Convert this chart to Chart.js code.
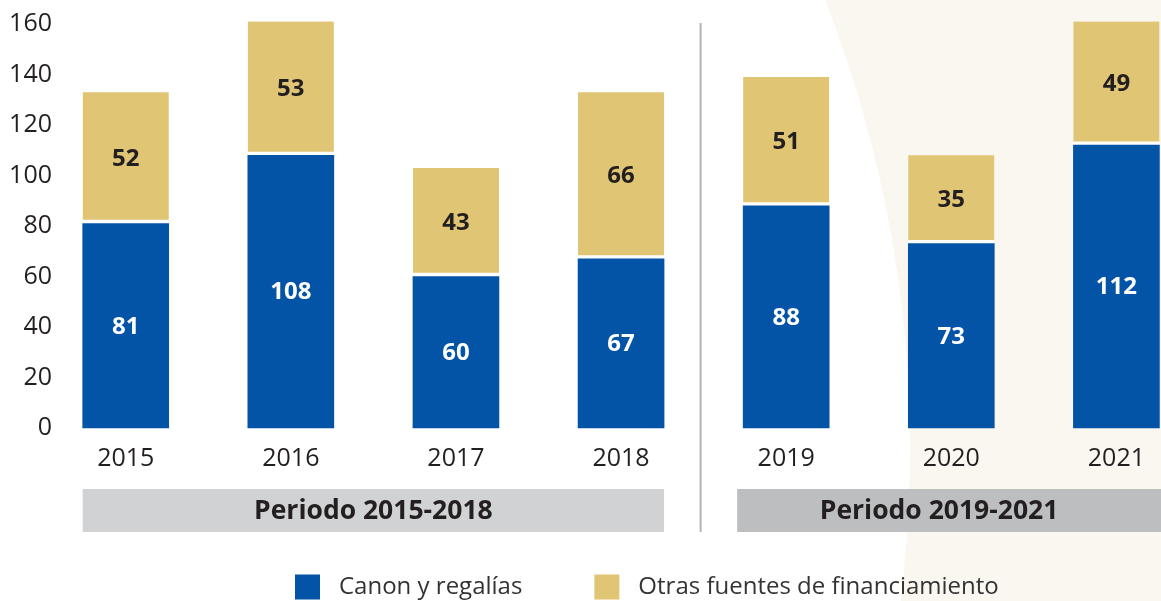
<!DOCTYPE html>
<html>
<head>
<meta charset="utf-8">
<script src="https://cdn.jsdelivr.net/npm/chart.js@4.4.1/dist/chart.umd.min.js"></script>
<style>
html,body{margin:0;padding:0;background:#fff;overflow:hidden}
#wrap{width:1161px;height:601px;position:relative}
canvas{display:block}
</style>
</head>
<body>
<div id="wrap"><canvas id="c" width="1161" height="601"></canvas></div>
<script>
// ---- data ----
const categories = ['2015', '2016', '2017', '2018', '2019', '2020', '2021'];
const canonRegalias = [81, 108, 60, 67, 88, 73, 112];
const otrasFuentes = [52, 53, 43, 66, 51, 35, 49];
const yTickValues = [0, 20, 40, 60, 80, 100, 120, 140, 160];
const seriesNames = ['Canon y regalías', 'Otras fuentes de financiamiento'];
const periodLabels = ['Periodo 2015-2018', 'Periodo 2019-2021'];
const periodFirstIndex = [0, 4];
const periodLastIndex = [3, 6];

// ---- style ----
const FONT = "'Open Sans', 'Noto Sans', sans-serif";
const TEXT = '#231f20';
const BLUE = '#0354a6';
const GOLD = '#dfc574';
const BAR_W = 86;
const PERIOD_FILL = ['#d1d2d4', '#bcbec0'];

const bgPlugin = {
  id: 'bg',
  beforeDraw(chart) {
    const c = chart.ctx;
    c.save();
    c.fillStyle = '#f9f7ef';
    c.fillRect(0, 0, chart.width, chart.height);
    c.fillStyle = '#ffffff';
    c.beginPath();
    c.arc(-324, 450, 1234, 0, Math.PI * 2);
    c.fill();
    c.restore();
  }
};

const valueLabelPlugin = {
  id: 'valueLabels',
  afterDatasetsDraw(chart) {
    const c = chart.ctx;
    c.save();
    c.font = `bold 24px ${FONT}`;
    c.textAlign = 'center';
    c.textBaseline = 'middle';
    chart.data.datasets.forEach((ds, di) => {
      const meta = chart.getDatasetMeta(di);
      meta.data.forEach((el, i) => {
        const p = el.getProps(['x', 'y', 'base'], true);
        const v = ds.data[i].y;
        c.fillStyle = di === 0 ? '#ffffff' : TEXT;
        c.fillText(String(v), p.x, (p.y + p.base) / 2 + 1);
      });
    });
    c.restore();
  }
};

const periodPlugin = {
  id: 'periods',
  afterDraw(chart) {
    const c = chart.ctx;
    const xs = chart.scales.x;
    const area = chart.chartArea;
    const half = BAR_W / 2;
    const b1Left = xs.getPixelForValue(periodFirstIndex[0]) - half;
    const b1Right = xs.getPixelForValue(periodLastIndex[0]) + half;
    const divider = (xs.getPixelForValue(periodLastIndex[0]) + xs.getPixelForValue(periodFirstIndex[1])) / 2 - 3;
    const b2Left = divider + (divider - b1Right);
    const b2Right = chart.width;
    const top = area.bottom + 61;
    const h = 43;
    c.save();
    c.strokeStyle = '#b3b3b3';
    c.lineWidth = 2;
    c.beginPath();
    c.moveTo(divider, area.top - 1);
    c.lineTo(divider, top + h);
    c.stroke();
    c.fillStyle = PERIOD_FILL[0];
    c.fillRect(b1Left, top, b1Right - b1Left, h);
    c.fillStyle = PERIOD_FILL[1];
    c.fillRect(b2Left, top, b2Right - b2Left, h);
    c.fillStyle = TEXT;
    c.font = `bold 26.5px ${FONT}`;
    c.textAlign = 'center';
    c.textBaseline = 'middle';
    c.fillText(periodLabels[0], (b1Left + b1Right) / 2, top + h / 2 + 1);
    c.fillText(periodLabels[1], (b2Left + b2Right) / 2 - 10, top + h / 2 + 1);
    c.restore();
  }
};

const legendPlugin = {
  id: 'customLegend',
  afterDraw(chart) {
    const c = chart.ctx;
    c.save();
    c.font = `24px ${FONT}`;
    c.textBaseline = 'middle';
    c.textAlign = 'left';
    const box = 25, gapText = 19, gapItem = 72;
    let x = 295;
    const cy = 587;
    chart.data.datasets.forEach((ds) => {
      c.fillStyle = ds.backgroundColor;
      c.fillRect(x, cy - box / 2, box, box);
      c.fillStyle = '#333333';
      c.fillText(ds.label, x + box + gapText, cy);
      x += box + gapText + c.measureText(ds.label).width + gapItem;
    });
    c.restore();
  }
};

new Chart(document.getElementById('c').getContext('2d'), {
  type: 'bar',
  data: {
    datasets: [
      {
        label: seriesNames[0],
        data: categories.map((_, i) => ({ x: i, y: canonRegalias[i] })),
        backgroundColor: BLUE,
        borderWidth: 0,
        barThickness: BAR_W,
        clip: false
      },
      {
        label: seriesNames[1],
        data: categories.map((_, i) => ({ x: i, y: otrasFuentes[i] })),
        backgroundColor: GOLD,
        borderColor: '#ffffff',
        borderWidth: { top: 0, left: 0, right: 0, bottom: 4 },
        borderSkipped: false,
        barThickness: BAR_W,
        clip: false
      }
    ]
  },
  options: {
    responsive: false,
    animation: false,
    layout: { autoPadding: false, padding: { top: 24, right: 0, bottom: 0, left: 0 } },
    plugins: { legend: { display: false }, tooltip: { enabled: false } },
    scales: {
      x: {
        type: 'linear',
        bounds: 'data',
        stacked: true,
        offset: false,
        min: -0.398,
        max: 6.153,
        grid: { display: false, drawTicks: false },
        border: { display: false },
        afterBuildTicks: (s) => { s.ticks = categories.map((_, i) => ({ value: i })); },
        afterFit: (s) => { s.height = 173; },
        ticks: {
          autoSkip: false,
          maxRotation: 0,
          padding: 16,
          font: { family: FONT, size: 25 },
          color: TEXT,
          callback: (v) => categories[v]
        }
      },
      y: {
        stacked: true,
        min: 0,
        max: 160,
        afterBuildTicks: (s) => { s.ticks = yTickValues.map((v) => ({ value: v })); },
        afterFit: (s) => { s.width = 60; },
        grid: { display: false, drawTicks: false },
        border: { display: false },
        ticks: { padding: 8, font: { family: FONT, size: 25 }, color: TEXT }
      }
    }
  },
  plugins: [bgPlugin, valueLabelPlugin, periodPlugin, legendPlugin]
});
</script>
</body>
</html>
